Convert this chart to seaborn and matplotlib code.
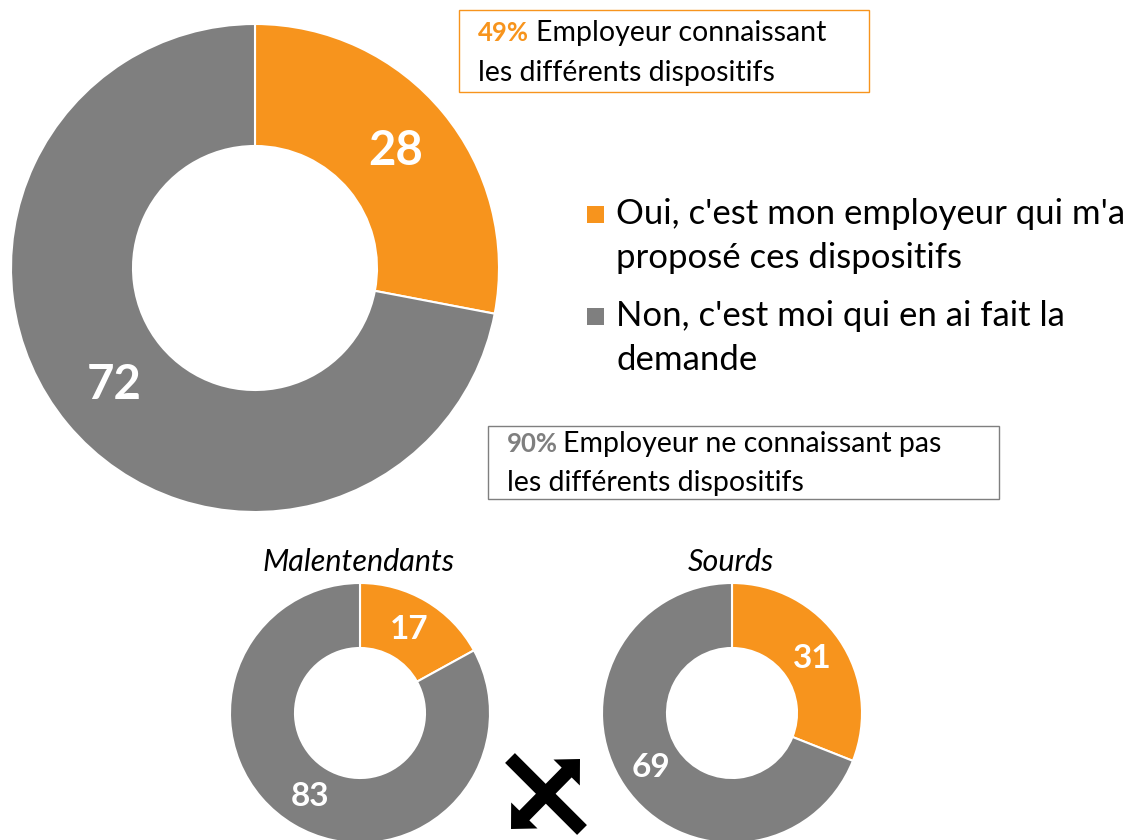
import matplotlib
matplotlib.use("Agg")
import matplotlib.pyplot as plt
import seaborn as sns
from matplotlib.patches import Rectangle, FancyArrow

# data
series_labels = ["Oui, c'est mon employeur qui m'a\nproposé ces dispositifs",
                 "Non, c'est moi qui en ai fait la\ndemande"]
total_vals = [28, 72]
malentendants_vals = [17, 83]
sourds_vals = [31, 69]
panel_titles = ["Malentendants", "Sourds"]
callout_pcts = [49, 90]
callout_texts = ["Employeur connaissant", "Employeur ne connaissant pas"]
callout_line2 = "les différents dispositifs"

sns.set_theme(style="white")
plt.rcParams['font.family'] = ['Lato', 'DejaVu Sans']

colors = sns.color_palette(["#F7941D", "#7F7F7F"])
W, H = 1132, 840
fig = plt.figure(figsize=(W / 100, H / 100), dpi=100)
fig.patch.set_facecolor("white")


def add_donut(cx, cy, r, vals, fs):
    ax = fig.add_axes([(cx - r) / W, 1 - (cy + r) / H, 2 * r / W, 2 * r / H])
    ax.pie(vals, colors=colors, startangle=90, counterclock=False,
           wedgeprops=dict(width=0.5, edgecolor="white", linewidth=1.5),
           autopct=lambda p: f"{p:.0f}", pctdistance=0.75,
           textprops=dict(color="white", fontweight="bold", fontsize=fs))
    ax.set_xlim(-1, 1)
    ax.set_ylim(-1, 1)
    ax.axis("off")
    return ax


add_donut(255, 268, 244, total_vals, 34)
add_donut(360, 713, 130, malentendants_vals, 24)
add_donut(732, 713, 130, sourds_vals, 24)

# overlay in pixel coordinates for annotations
ov = fig.add_axes([0, 0, 1, 1])
ov.set_xlim(0, W)
ov.set_ylim(H, 0)
ov.axis("off")
ov.patch.set_alpha(0)

# panel titles
for x, t in zip([359, 731], panel_titles):
    ov.text(x, 562, t, ha="center", va="center", fontsize=22, style="italic", color="black")

# legend
for i, (y, lab) in enumerate(zip([214, 316], series_labels)):
    ov.add_patch(Rectangle((587, y - 8), 17, 17, color=colors[i], lw=0))
    for k, line in enumerate(lab.split("\n")):
        ov.text(616, y + 44 * k, line, ha="left", va="center", fontsize=25, color="black")

# callout boxes
boxes = [(459, 10, 410, 82, 478, 536, 33, 73), (488, 426, 511, 73, 507, 563, 444, 483)]
for i, (bx, by, bw, bh, tx, tx2, y1, y2) in enumerate(boxes):
    ov.add_patch(Rectangle((bx, by), bw, bh, fill=False, edgecolor=colors[i], lw=1))
    ov.text(tx, y1, f"{callout_pcts[i]}%", ha="left", va="center", fontsize=18.5,
            fontweight="bold", color=colors[i])
    ov.text(tx2, y1, callout_texts[i], ha="left", va="center", fontsize=20.5, color="black")
    ov.text(tx, y2, callout_line2, ha="left", va="center", fontsize=20.5, color="black")

# cross icon
ov.plot([510, 582], [758, 830], color="black", lw=10, solid_capstyle="butt")
cx, cy = 545.5, 794
for tx, ty in [(580, 759), (511, 829)]:
    ov.add_patch(FancyArrow(cx, cy, tx - cx, ty - cy, width=14, head_width=37,
                            head_length=19, length_includes_head=True,
                            color="black", lw=0))

fig.savefig("out.png", dpi=100, facecolor="white")
